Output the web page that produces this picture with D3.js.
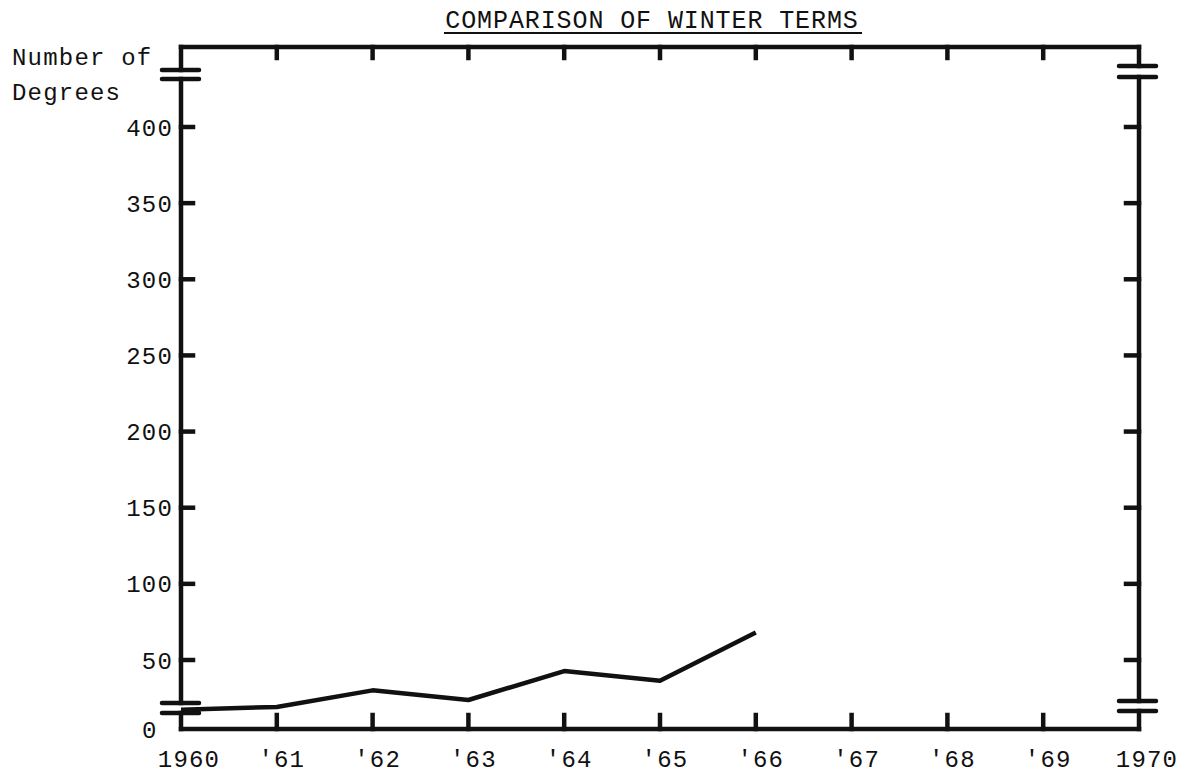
<!DOCTYPE html>
<html><head><meta charset="utf-8">
<script src="https://cdn.jsdelivr.net/npm/d3@7"></script>
<style>
html,body{margin:0;padding:0;background:#fff;}
text{font-family:"Liberation Mono","DejaVu Sans Mono",monospace;fill:#111;}
</style></head>
<body>
<svg id="c" width="1196" height="775"></svg>
<script>
const years = [1960, 1961, 1962, 1963, 1964, 1965, 1966];
const degrees = [14, 16, 28, 21, 42, 35, 68];
const xTickYears = [1960, 1961, 1962, 1963, 1964, 1965, 1966, 1967, 1968, 1969, 1970];
const xTickLabels = ["1960", "'61", "'62", "'63", "'64", "'65", "'66", "'67", "'68", "'69", "1970"];
const yTickValues = [50, 100, 150, 200, 250, 300, 350, 400];
const title = "COMPARISON OF WINTER TERMS";
const yTitle = ["Number of", "Degrees"];

(function () {
const svg = d3.select("#c");
const ink = "#111";
const x = d3.scaleLinear().domain([1960, 1970]).range([181, 1139]);
const y = d3.scaleLinear().domain([0, 50, 400]).range([729, 660, 127]);
const fTop = 47, left = x(1960), right = x(1970), bottom = y(0);
const fw = 4.5;

svg.append("text").attr("x", 652).attr("y", 28).attr("text-anchor", "middle")
  .style("font-size", "25px").style("letter-spacing", "0.9px").text(title);
svg.append("line").attr("x1", 444).attr("x2", 862).attr("y1", 33).attr("y2", 33)
  .attr("stroke", ink).attr("stroke-width", 2);

svg.append("text").attr("x", 12).attr("y", 65).style("font-size", "24px").style("letter-spacing", "1.2px").text(yTitle[0]);
svg.append("text").attr("x", 12).attr("y", 100).style("font-size", "24px").style("letter-spacing", "1.2px").text(yTitle[1]);

const g = svg.append("g").attr("stroke", ink).attr("stroke-width", fw).attr("fill", "none").attr("stroke-linecap", "square");
g.append("line").attr("x1", left).attr("x2", right).attr("y1", fTop).attr("y2", fTop);
g.append("line").attr("x1", left).attr("x2", right).attr("y1", bottom).attr("y2", bottom);
const breaksL = [[70, 79], [703, 713]];
const breaksR = [[66, 77], [701, 711]];
function sideAxis(xx, br, x1, x2) {
  g.append("line").attr("x1", xx).attr("x2", xx).attr("y1", fTop).attr("y2", br[0][0]);
  g.append("line").attr("x1", xx).attr("x2", xx).attr("y1", br[0][1]).attr("y2", br[1][0]);
  g.append("line").attr("x1", xx).attr("x2", xx).attr("y1", br[1][1]).attr("y2", bottom);
  br.forEach(b => b.forEach(v => {
    g.append("line").attr("x1", x1).attr("x2", x2).attr("y1", v).attr("y2", v).attr("stroke-linecap", "round");
  }));
}
sideAxis(left, breaksL, 162, 199);
sideAxis(right, breaksR, 1119, 1156);

yTickValues.forEach(v => {
  g.append("line").attr("x1", left).attr("x2", left + 12).attr("y1", y(v)).attr("y2", y(v));
  g.append("line").attr("x1", right).attr("x2", right - 13).attr("y1", y(v)).attr("y2", y(v));
  svg.append("text").attr("x", 173).attr("y", y(v)).attr("dy", "0.36em").attr("text-anchor", "end")
    .style("font-size", "24px").style("letter-spacing", "1.2px").text(v);
});
svg.append("text").attr("x", 142).attr("y", y(0)).attr("dy", "0.36em")
  .style("font-size", "24px").text("0");

xTickYears.forEach((yr, i) => {
  if (i > 0 && i < xTickYears.length - 1) {
    g.append("line").attr("x1", x(yr)).attr("x2", x(yr)).attr("y1", bottom).attr("y2", bottom - 14);
    g.append("line").attr("x1", x(yr)).attr("x2", x(yr)).attr("y1", fTop).attr("y2", fTop + 11);
  }
  const lab = xTickLabels[i];
  svg.append("text").attr("x", x(yr) + (lab.length === 4 ? 8 : 5)).attr("y", 767).attr("text-anchor", "middle")
    .style("font-size", "24px").style("letter-spacing", "1.2px").text(lab);
});

const line = d3.line().x((d, i) => x(years[i])).y(d => y(d));
svg.append("path").datum(degrees).attr("d", line).attr("fill", "none")
  .attr("stroke", ink).attr("stroke-width", 4.5).attr("stroke-linejoin", "round");
})();
</script>
</body></html>
